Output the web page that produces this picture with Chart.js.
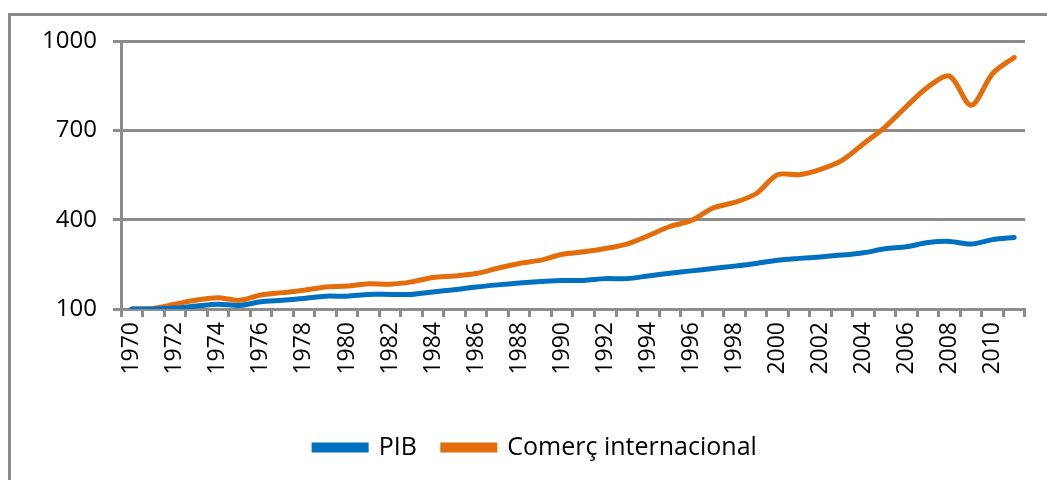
<!DOCTYPE html>
<html>
<head>
<meta charset="utf-8">
<script src="https://cdn.jsdelivr.net/npm/chart.js@4/dist/chart.umd.min.js"></script>
<style>
  body { margin: 0; background: #fff; }
  canvas { display: block; }
</style>
</head>
<body>
<canvas id="chart" width="1047" height="480"></canvas>
<script>
'use strict';

const years = [
    '1970', '1971', '1972', '1973', '1974', '1975', '1976', '1977', '1978', '1979',
    '1980', '1981', '1982', '1983', '1984', '1985', '1986', '1987', '1988', '1989',
    '1990', '1991', '1992', '1993', '1994', '1995', '1996', '1997', '1998', '1999',
    '2000', '2001', '2002', '2003', '2004', '2005', '2006', '2007', '2008', '2009',
    '2010', '2011'
];
const pib = [
    100, 100, 103, 110, 116, 112, 124, 129, 135, 143,
    143, 149, 149, 149, 157, 165, 174, 181, 187, 192,
    196, 196, 202, 202, 211, 220, 228, 236, 244, 253,
    264, 270, 275, 281, 289, 302, 309, 323, 327, 318,
    333, 340
];
const comerc = [
    100, 102, 116, 130, 138, 129, 147, 155, 163, 174,
    177, 185, 183, 191, 206, 211, 219, 237, 253, 264,
    284, 292, 303, 318, 346, 377, 397, 439, 458, 487,
    551, 551, 569, 599, 655, 711, 781, 846, 882, 784,
    891, 945
];
const yTicks = [100, 400, 700, 1000];

const GRID = '#8c8c8c';
const FONT = 'Open Sans';

// frame round the whole chart (it runs off the right and bottom edges)
const framePlugin = {
    id: 'frame',
    beforeDraw(chart) {
        const ctx = chart.ctx;
        ctx.save();
        ctx.strokeStyle = GRID;
        ctx.lineWidth = 3;
        ctx.strokeRect(9.5, 14.5, 2000, 2000);
        ctx.restore();
    }
};

new Chart(document.getElementById('chart'), {
    type: 'line',
    data: {
        labels: years,
        datasets: [
            {
                label: 'PIB',
                data: pib,
                borderColor: '#0070c0',
                backgroundColor: '#0070c0',
                borderWidth: 5,
                pointRadius: 0,
                tension: 0.3,
                borderCapStyle: 'round'
            },
            {
                label: 'Comerç internacional',
                data: comerc,
                borderColor: '#e46c0a',
                backgroundColor: '#e46c0a',
                borderWidth: 5,
                pointRadius: 0,
                tension: 0.3,
                borderCapStyle: 'round'
            }
        ]
    },
    options: {
        responsive: false,
        animation: false,
        layout: {
            padding: { left: 40, right: 16, top: 41, bottom: 10 }
        },
        plugins: {
            tooltip: { enabled: false },
            legend: {
                position: 'bottom',
                labels: {
                    boxWidth: 52,
                    boxHeight: 5,
                    padding: 26,
                    color: '#000',
                    font: { family: FONT, size: 25 }
                }
            }
        },
        scales: {
            x: {
                offset: true,
                grid: {
                    offset: true,
                    drawOnChartArea: false,
                    color: GRID,
                    lineWidth: 3,
                    tickLength: 8
                },
                border: { color: GRID, width: 3 },
                ticks: {
                    autoSkip: false,
                    minRotation: 90,
                    maxRotation: 90,
                    padding: 5,
                    color: '#000',
                    font: { family: FONT, size: 23 },
                    callback: function (value, index) {
                        return index % 2 === 0 ? years[index] : '';
                    }
                },
                afterFit: function (scale) {
                    scale.height = 100;
                }
            },
            y: {
                min: 100,
                max: 1000,
                afterBuildTicks: function (scale) {
                    scale.ticks = yTicks.map((v) => ({ value: v }));
                },
                grid: {
                    color: GRID,
                    lineWidth: 3,
                    tickLength: 8
                },
                border: { color: GRID, width: 3 },
                ticks: {
                    padding: 16,
                    color: '#000',
                    font: { family: FONT, size: 24 },
                    callback: function (value) {
                        return String(value);
                    }
                },
                afterFit: function (scale) {
                    scale.width = 81;
                }
            }
        }
    },
    plugins: [framePlugin]
});
</script>
</body>
</html>
